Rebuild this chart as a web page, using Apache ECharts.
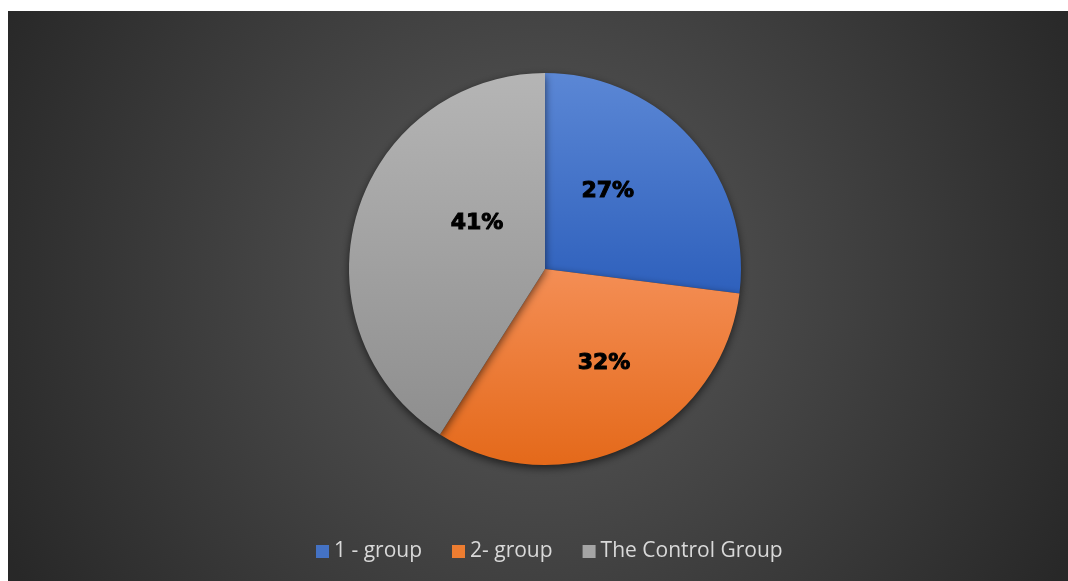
<!DOCTYPE html>
<html>
<head>
<meta charset="utf-8">
<script src="https://cdn.jsdelivr.net/npm/echarts@6/dist/echarts.min.js"></script>
<style>
html,body{margin:0;padding:0;background:#ffffff;width:1068px;height:581px;overflow:hidden;}
#chart{position:absolute;left:8px;top:11px;width:1060px;height:570px;}
</style>
</head>
<body>
<div id="chart"></div>
<script>
const categories = ['1 - group', '2- group', 'The Control Group'];
const values = [27, 32, 41];
const colorsTop = ['#5b87d5', '#f48e55', '#b5b5b5'];
const colorsBottom = ['#2e60bc', '#e4691a', '#8e8e8e'];
const legendColors = ['#4472c4', '#ed7d31', '#a5a5a5'];
// label nudges to mimic the original's label placement
const labelNudges = [[-13, -11], [16, 3], [29, -18]];

const chart = echarts.init(document.getElementById('chart'));
const data = categories.map((c, i) => ({
  name: c,
  value: values[i],
  label: {offset: labelNudges[i]},
  itemStyle: {
    color: {
      type: 'linear', x: 0, y: 0, x2: 0, y2: 1,
      colorStops: [{offset: 0, color: colorsTop[i]}, {offset: 1, color: colorsBottom[i]}]
    }
  }
}));
chart.setOption({
  backgroundColor: {
    type: 'radial', x: 0.5, y: 0.47, r: 1.05,
    colorStops: [{offset: 0, color: '#5a5a5a'}, {offset: 1, color: '#282828'}]
  },
  legend: {
    data: categories.map((c, i) => ({name: c, itemStyle: {color: legendColors[i]}})),
    top: 525,
    left: 303,
    icon: 'rect',
    itemWidth: 13,
    itemHeight: 13,
    itemGap: 30,
    textStyle: {color: '#d9d9d9', fontSize: 21, fontFamily: 'Open Sans'}
  },
  series: [{
    type: 'pie',
    center: [537, 258],
    radius: 196,
    startAngle: 90,
    clockwise: true,
    silent: true,
    data: data,
    itemStyle: {
      borderWidth: 0,
      shadowColor: 'rgba(0,0,0,0.6)',
      shadowBlur: 8,
      shadowOffsetY: 3
    },
    label: {
      show: true,
      position: 'inside',
      formatter: '{d}%',
      color: '#000000',
      fontSize: 22,
      fontWeight: 900,
      fontFamily: 'DejaVu Sans',
      textBorderColor: '#000000',
      textBorderWidth: 1
    },
    labelLine: {show: false}
  }]
});
</script>
</body>
</html>
